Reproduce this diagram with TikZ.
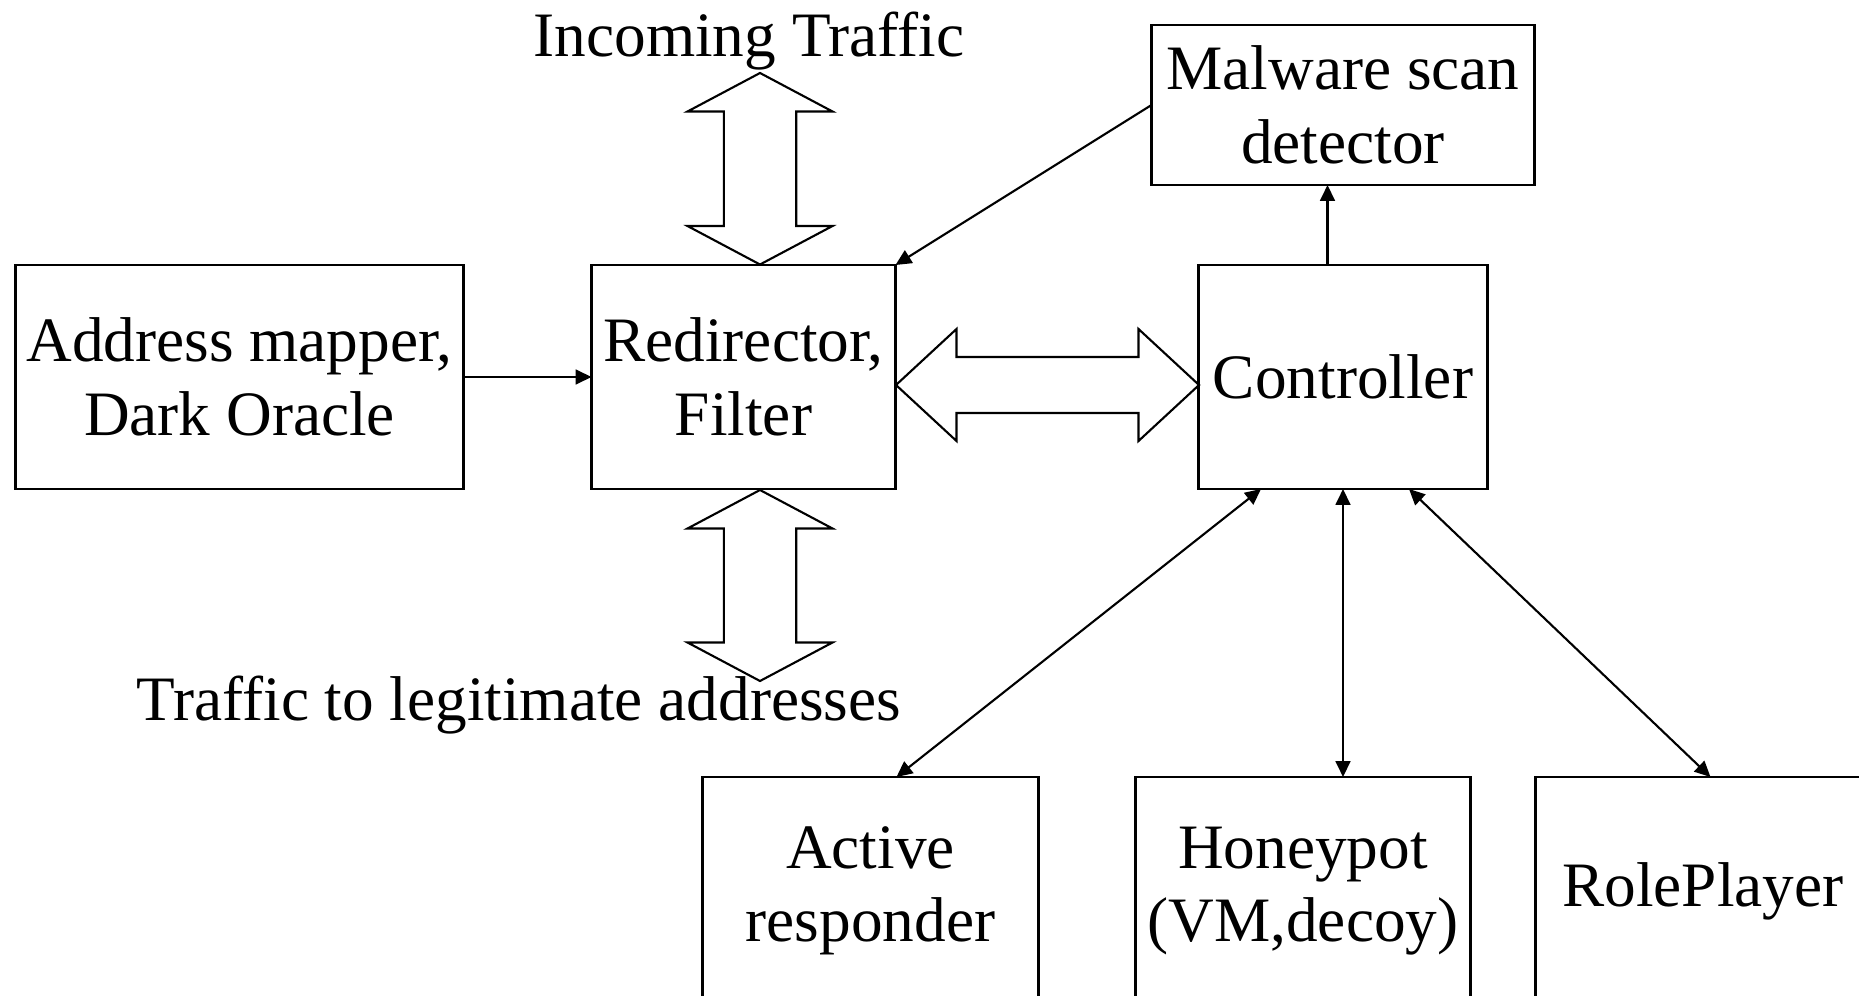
\documentclass[tikz,border=0pt]{standalone}
\usepackage{fontspec}
\setmainfont{Liberation Serif}
\usepackage{tikz}
\usetikzlibrary{arrows.meta,positioning}
% fat double-headed arrows: x, y of upper tip, y of lower tip
\newcommand{\fatvert}[3]{%
  \draw[line width=0.6pt] (#1,#2) -- (#1+0.725,#2-0.385) -- (#1+0.362,#2-0.385)
    -- (#1+0.362,#3+0.385) -- (#1+0.725,#3+0.385) -- (#1,#3)
    -- (#1-0.725,#3+0.385) -- (#1-0.362,#3+0.385) -- (#1-0.362,#2-0.385)
    -- (#1-0.725,#2-0.385) -- cycle;}
% y, x of left tip, x of right tip
\newcommand{\fathoriz}[3]{%
  \draw[line width=0.6pt] (#2,#1) -- (#2+0.605,#1+0.56) -- (#2+0.605,#1+0.28)
    -- (#3-0.605,#1+0.28) -- (#3-0.605,#1+0.56) -- (#3,#1)
    -- (#3-0.605,#1-0.56) -- (#3-0.605,#1-0.28) -- (#2+0.605,#1-0.28)
    -- (#2+0.605,#1-0.56) -- cycle;}

\begin{document}
\begin{tikzpicture}[>={Triangle[length=4.5pt,width=4.2pt]}, line width=0.6pt,
    every node/.style={font=\fontsize{18}{20.9}\selectfont, align=center},
    box/.style={draw, inner sep=0pt, outer sep=0pt, minimum height=2.24cm}]
  \useasboundingbox (0,0) rectangle (18.59,-9.96);
  \node (addr) [box, minimum width=4.48cm] at (2.395,-3.77) {Address mapper,\\Dark Oracle};
  \node (redir) [box, minimum width=3.04cm, right=1.28cm of addr] {Redirector,\\Filter};
  \node (ctrl) [box, minimum width=2.89cm, right=3.03cm of redir] {Controller};
  \node (mal) [box, minimum width=3.83cm, minimum height=1.6cm, above=0.80cm of ctrl] {Malware scan\\detector};
  \node (hp) [box, minimum width=3.35cm, minimum height=2.28cm, below=2.88cm of ctrl, xshift=-0.40cm] {Honeypot\\(VM,decoy)};
  \node (act) [box, minimum width=3.36cm, minimum height=2.28cm, left=0.97cm of hp] {Active\\responder};
  \node (role) [box, minimum width=3.35cm, minimum height=2.28cm, right=0.65cm of hp] {RolePlayer};
  \node (in) [anchor=base] at (7.49,-0.57) {Incoming Traffic};
  \node (out) [anchor=base] at (5.19,-7.20) {Traffic to legitimate addresses};

  \fatvert{7.60}{-0.73}{-2.645}
  \fatvert{7.60}{-4.90}{-6.81}
  \fathoriz{-3.85}{8.96}{11.99}

  \draw[->] (addr) -- (redir);
  \draw[->] (mal.west) -- (redir.north east);
  \draw[->] ([xshift=-0.155cm]ctrl.north) -- ([xshift=-0.155cm]ctrl.north |- mal.south);
  \draw[<->] ([xshift=-0.82cm]ctrl.south) -- ([xshift=0.26cm]act.north);
  \draw[<->] (ctrl.south) -- (ctrl.south |- hp.north);
  \draw[<->] ([xshift=0.66cm]ctrl.south) -- ([xshift=0.075cm]role.north);
\end{tikzpicture}
\end{document}
